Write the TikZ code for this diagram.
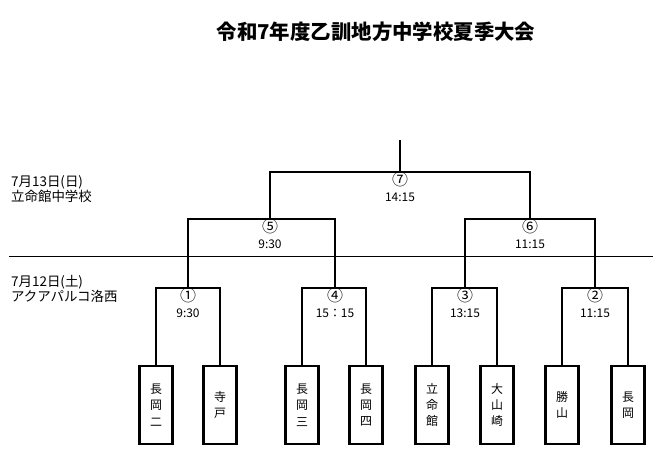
\documentclass[tikz,border=0pt]{standalone}
\usepackage{fontspec}
\setmainfont{Noto Sans CJK JP}
\usetikzlibrary{positioning}

\newcommand{\circnum}[1]{{\fontsize{16}{16}\selectfont #1}}

\tikzset{
  team/.style={draw, line width=2.2bp, minimum width=33bp, minimum height=78bp,
    inner sep=0pt, align=center, font=\fontsize{12}{16.5}\selectfont},
  bracket/.style={line width=2.6bp},
  info/.style={anchor=north, align=center, inner sep=0bp,
    font=\fontsize{12}{16}\selectfont},
  day/.style={anchor=west, align=left, inner sep=0pt,
    font=\fontsize{13.5}{15}\selectfont},
}

\begin{document}
\begin{tikzpicture}[x=1bp, y=-1bp]
  \useasboundingbox (0,0) rectangle (672,466);

  \node[font=\fontsize{20.5}{24}\selectfont\bfseries] (title) at (376,32) {令和7年度乙訓地方中学校夏季大会};

  % Days
  \node[day] (day2) at (11,189) {7月13日(日)\\立命館中学校};
  \node[day] (day1) at (11,289) {7月12日(土)\\アクアパルコ洛西};
  \draw[line width=1bp] (9,257) -- (653,257); % day separator

  % Teams
  \node[team] (t1) at (156,405) {長\\岡\\二};
  \node[team] (t2) at (220,405) {寺\\戸};
  \node[team] (t3) at (302,405) {長\\岡\\三};
  \node[team] (t4) at (366,405) {長\\岡\\四};
  \node[team] (t5) at (432,405) {立\\命\\館};
  \node[team] (t6) at (497,405) {大\\山\\崎};
  \node[team] (t7) at (562,405) {勝\\山};
  \node[team] (t8) at (628,405) {長\\岡};

  % Matches
  \coordinate (m1) at (188,288);
  \coordinate (m4) at (335,288);
  \coordinate (m3) at (465,288);
  \coordinate (m2) at (595,288);
  \coordinate (m5) at (270,219);
  \coordinate (m6) at (530,219);
  \coordinate (m7) at (400,172);
  \coordinate (top) at (400,140);

  \draw[bracket] (t1.north) |- (m1) -| (t2.north);
  \draw[bracket] (t3.north) |- (m4) -| (t4.north);
  \draw[bracket] (t5.north) |- (m3) -| (t6.north);
  \draw[bracket] (t7.north) |- (m2) -| (t8.north);
  \draw[bracket] (m1) |- (m5) -| (m4);
  \draw[bracket] (m3) |- (m6) -| (m2);
  \draw[bracket] (m5) |- (m7) -| (m6);
  \draw[bracket] (m7) -- (top);

  \node[info] (i1) at (m1) {\circnum{①}\\9:30};
  \node[info] (i4) at (m4) {\circnum{④}\\15：15};
  \node[info] (i3) at (m3) {\circnum{③}\\13:15};
  \node[info] (i2) at (m2) {\circnum{②}\\11:15};
  \node[info] (i5) at (m5) {\circnum{⑤}\\9:30};
  \node[info] (i6) at (m6) {\circnum{⑥}\\11:15};
  \node[info] (i7) at (m7) {\circnum{⑦}\\14:15};
\end{tikzpicture}
\end{document}
